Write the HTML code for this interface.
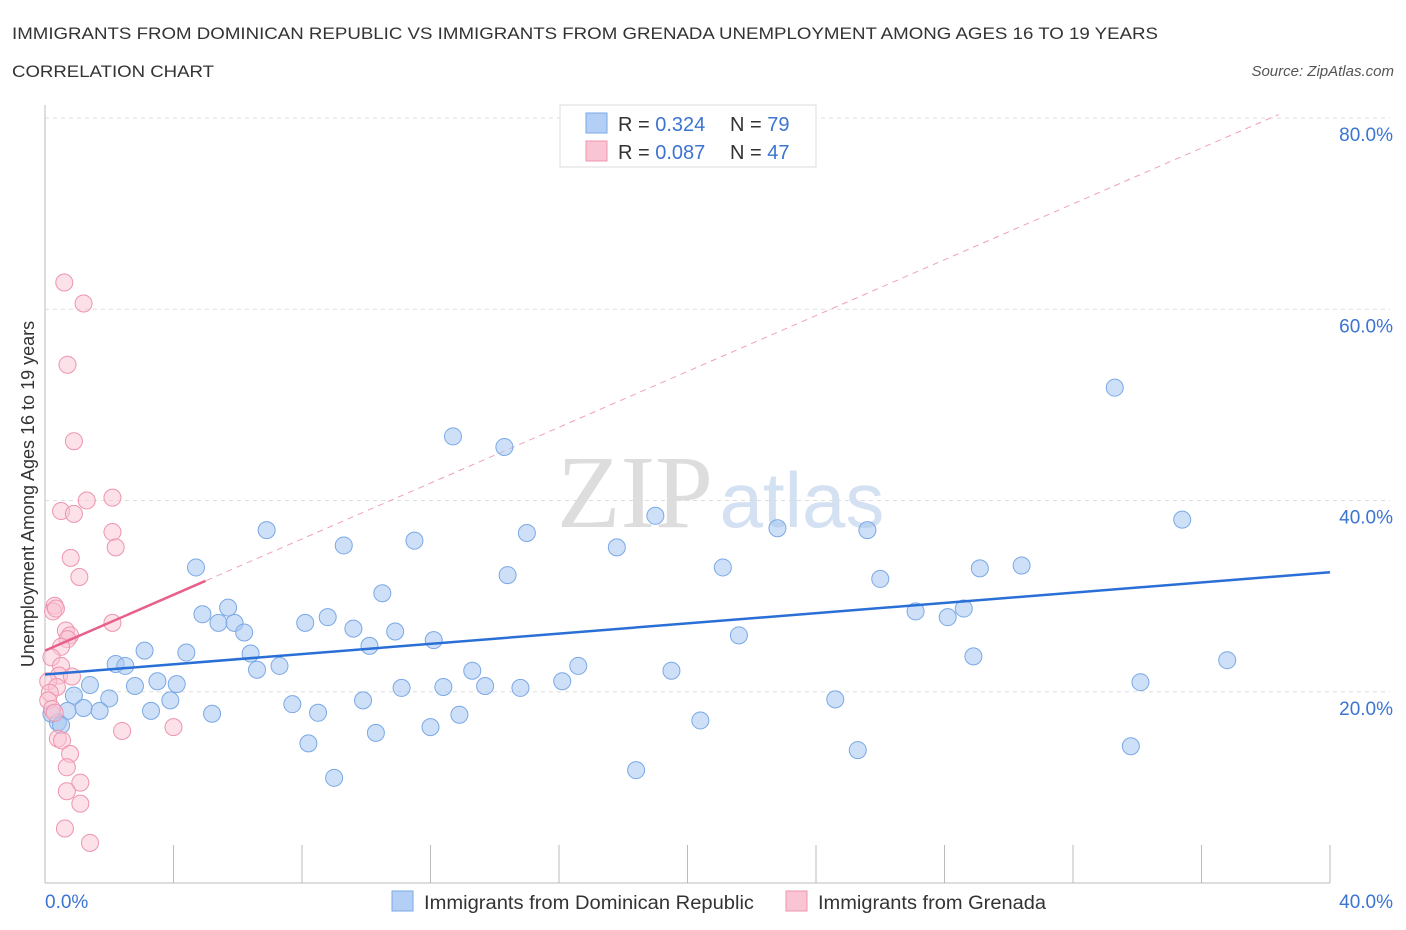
<!DOCTYPE html>
<html><head><meta charset="utf-8"><style>
body{margin:0;background:#fff;font-family:"Liberation Sans",sans-serif;}
#c{position:absolute;left:0;top:0;}
</style></head><body>
<svg id="c" width="1406" height="930" xmlns="http://www.w3.org/2000/svg">
<text x="12" y="39" font-size="17" fill="#333" textLength="1146" lengthAdjust="spacingAndGlyphs">IMMIGRANTS FROM DOMINICAN REPUBLIC VS IMMIGRANTS FROM GRENADA UNEMPLOYMENT AMONG AGES 16 TO 19 YEARS</text>
<text x="12" y="77" font-size="17" fill="#333" textLength="202" lengthAdjust="spacingAndGlyphs">CORRELATION CHART</text>
<text x="1394" y="76" font-size="15" fill="#555" font-style="italic" text-anchor="end">Source: ZipAtlas.com</text>
<text x="34" y="494" font-size="18" fill="#333" text-anchor="middle" transform="rotate(-90 34 494)">Unemployment Among Ages 16 to 19 years</text>
<g><text x="635" y="527" font-size="104" fill="#ddd" font-family="Liberation Serif,serif" text-anchor="middle">ZIP</text><text x="802" y="527" font-size="78" fill="#d3e1f2" text-anchor="middle">atlas</text></g>
<g id="grid"></g><g id="marks"></g>
<g>
<rect x="560" y="105" width="256" height="62" fill="#fff" stroke="#ddd"/>
<rect x="586" y="113" width="21" height="20" fill="#b3cff5" stroke="#7aa8e6"/>
<rect x="586" y="141" width="21" height="20" fill="#f9c4d3" stroke="#ee94ae"/>
<text x="618" y="131" font-size="20" fill="#333">R = <tspan fill="#3b74d1">0.324</tspan></text>
<text x="730" y="131" font-size="20" fill="#333">N = <tspan fill="#3b74d1">79</tspan></text>
<text x="618" y="159" font-size="20" fill="#333">R = <tspan fill="#3b74d1">0.087</tspan></text>
<text x="730" y="159" font-size="20" fill="#333">N = <tspan fill="#3b74d1">47</tspan></text>
</g>
<g>
<rect x="392" y="891" width="21" height="20" fill="#b3cff5" stroke="#7aa8e6"/>
<text x="424" y="909" font-size="19" fill="#333" textLength="330" lengthAdjust="spacingAndGlyphs">Immigrants from Dominican Republic</text>
<rect x="786" y="891" width="21" height="20" fill="#f9c4d3" stroke="#ee94ae"/>
<text x="818" y="909" font-size="19" fill="#333" textLength="228" lengthAdjust="spacingAndGlyphs">Immigrants from Grenada</text>
</g>
</svg>
<script>
const yTicks=[20,40,60,80];
const xTickLabels=["0.0%","40.0%"];
const blueX=[12.7,14.3,33.3,35.4,6.9,9.3,11.5,15.0,19.0,17.8,22.8,25.6,4.7,14.4,21.1,26.0,29.1,30.4,10.5,5.7,4.9,5.4,5.9,8.1,8.8,6.2,9.6,10.9,12.1,10.1,21.6,27.1,28.1,28.6,3.1,4.4,6.4,2.2,2.5,7.3,6.6,13.3,16.6,19.5,28.9,36.8,3.5,4.1,2.8,1.4,11.1,12.4,13.7,14.8,16.1,34.1,0.9,2.0,3.9,9.9,24.6,7.7,0.7,1.2,1.7,3.3,5.2,8.5,12.9,0.2,0.4,0.5,12.0,20.4,10.3,8.2,25.3,33.8,9.0,18.4];
const blueY=[46.7,45.6,51.8,38.0,36.9,35.3,35.8,36.6,38.4,35.1,37.1,36.9,33.0,32.2,33.0,31.8,32.9,33.2,30.3,28.8,28.1,27.2,27.2,27.2,27.8,26.2,26.6,26.3,25.4,24.8,25.9,28.4,27.8,28.7,24.3,24.1,24.0,22.9,22.7,22.7,22.3,22.2,22.7,22.2,23.7,23.3,21.1,20.8,20.6,20.7,20.4,20.5,20.6,20.4,21.1,21.0,19.6,19.3,19.1,19.1,19.2,18.7,18.0,18.3,18.0,18.0,17.7,17.8,17.6,17.7,16.8,16.5,16.3,17.0,15.7,14.6,13.9,14.3,11.0,11.8];
const pinkX=[0.6,1.2,0.7,0.9,1.3,2.1,0.5,0.9,2.1,2.2,0.8,1.07,0.3,0.25,0.34,2.1,0.65,0.78,0.7,0.5,0.2,0.5,0.44,0.84,0.1,0.37,0.15,0.1,0.22,0.3,0.4,0.53,0.78,2.4,4.0,0.68,1.1,0.68,1.1,0.62,1.4];
const pinkY=[62.8,60.6,54.2,46.2,40.0,40.3,38.9,38.6,36.7,35.1,34.0,32.0,29.0,28.4,28.7,27.2,26.4,25.9,25.5,24.7,23.6,22.7,21.7,21.6,21.1,20.5,19.9,19.1,18.2,17.8,15.1,14.9,13.5,15.9,16.3,12.1,10.5,9.6,8.3,5.7,4.2];
const blueTrend=[21.8,32.5];
const pinkTrend=[24.3,31.6];
const NS="http://www.w3.org/2000/svg";
const X0=45,X1=1330,Y0=883,Y80=118;
const sx=v=>X0+(v/40)*(X1-X0);
const sy=v=>Y0-(v/80)*(Y0-Y80);
function mk(t,a,p){const e=document.createElementNS(NS,t);for(const k in a)e.setAttribute(k,a[k]);p.appendChild(e);return e;}
const g=document.getElementById('grid'),m=document.getElementById('marks');
for(const t of yTicks){
 const l=mk('line',{x1:X0,x2:1390,y1:sy(t),y2:sy(t),stroke:'#ddd','stroke-dasharray':'4,4'},g);
 
 
 const tx=mk('text',{x:1393,y:sy(t)+23,'font-size':19,fill:'#3b74d1','text-anchor':'end'},g);tx.textContent=t.toFixed(1)+'%';
 
 
}
mk('line',{x1:X0,x2:X0,y1:105,y2:Y0,stroke:'#bbb'},g);
const xa=mk('line',{x1:X0,x2:X1,y1:Y0,y2:Y0,stroke:'#bbb'},g);


for(let i=0;i<=10;i++){mk('line',{x1:sx(i*4),x2:sx(i*4),y1:845,y2:Y0,stroke:'#bbb'},g);}
const xl=mk('text',{x:45,y:908,'font-size':19,fill:'#3b74d1'},g);xl.textContent=xTickLabels[0];


const xr=mk('text',{x:1393,y:908,'font-size':19,fill:'#3b74d1','text-anchor':'end'},g);xr.textContent=xTickLabels[1];


const pe=mk('line',{x1:sx(0),y1:sy(pinkTrend[0]),x2:sx(38.4),y2:sy(pinkTrend[0]+(pinkTrend[1]-pinkTrend[0])/5*38.4),stroke:'#f0a0b8','stroke-dasharray':'6,5'},m);


for(let i=0;i<blueX.length;i++){
 const c=mk('circle',{cx:sx(blueX[i]),cy:sy(blueY[i]),r:8.5,fill:'rgba(165,198,240,0.55)',stroke:'#7aa8e6','stroke-width':1},m);
 
 
}
for(let i=0;i<pinkX.length;i++){
 const c=mk('circle',{cx:sx(pinkX[i]),cy:sy(pinkY[i]),r:8.5,fill:'rgba(249,196,211,0.5)',stroke:'#ee94ae','stroke-width':1},m);
 
 
}
const bt=mk('line',{x1:sx(0),y1:sy(blueTrend[0]),x2:sx(40),y2:sy(blueTrend[1]),stroke:'#2a6fd6','stroke-width':2.5},m);


const pt=mk('line',{x1:sx(0),y1:sy(pinkTrend[0]),x2:sx(5),y2:sy(pinkTrend[1]),stroke:'#e8608a','stroke-width':2.5},m);


</script>
</body></html>
